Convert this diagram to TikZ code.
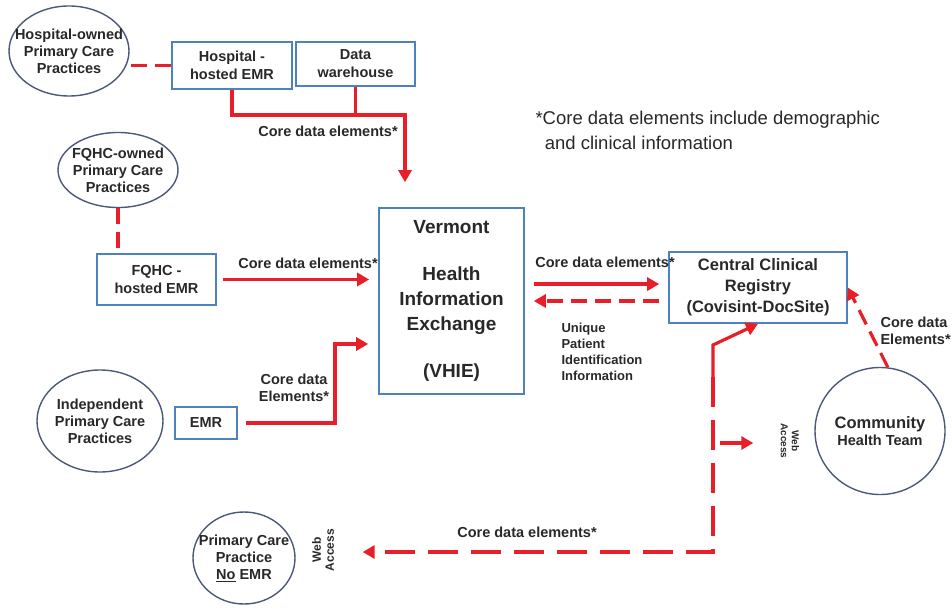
\documentclass[tikz,border=0pt]{standalone}
\usepackage{fontspec}
\setmainfont{Liberation Sans}
\usetikzlibrary{shapes.geometric,arrows.meta}
\definecolor{BoxBlue}{RGB}{79,129,189}
\definecolor{OvalGray}{RGB}{75,88,120}
\definecolor{LinkRed}{RGB}{232,30,40}
\definecolor{TextGray}{RGB}{40,40,40}
\newcommand{\fs}[2]{\fontsize{#1}{#2}\selectfont\bfseries}

\begin{document}
\begin{tikzpicture}[x=1pt,y=-1pt]
    \tikzset{BoxStyle/.style = {draw=BoxBlue, line width=1.6pt, align=center, text=TextGray, inner sep=0pt, font=\fs{14.5}{18}},
             OvalStyle/.style = {ellipse, draw=OvalGray, line width=1.4pt, align=center, text=TextGray, inner sep=-14pt, font=\fs{14.5}{17}},
             LabelStyle/.style = {align=center, text=TextGray, font=\fs{14.5}{17}},
             LinkStyle/.style = {draw=LinkRed, line width=3.2pt},
             ArrowStyle/.style = {LinkStyle, -{Triangle[length=12pt,width=13pt]}},
             LongDash/.style = {dash pattern=on 30pt off 13pt},
             ShortDash/.style = {dash pattern=on 16pt off 8pt}}
    \useasboundingbox (0,0) rectangle (952,612);

    \node[OvalStyle, minimum width=120pt, minimum height=90pt] (HOE) at (69,51) {Hospital-owned\\Primary Care\\Practices};
    \node[BoxStyle, minimum width=120pt, minimum height=47pt] (HEMR) at (232,65.5) {Hospital -\\hosted EMR};
    \node[BoxStyle, minimum width=119pt, minimum height=44pt] (DW) at (355.5,64) {Data\\warehouse};
    \node[OvalStyle, minimum width=120pt, minimum height=75pt] (FOE) at (118,170) {FQHC-owned\\Primary Care\\Practices};
    \node[BoxStyle, minimum width=119pt, minimum height=51pt] (FEMR) at (156.5,279.5) {FQHC -\\hosted EMR};
    \node[OvalStyle, minimum width=126pt, minimum height=102pt] (IPC) at (100,421) {Independent\\Primary Care\\Practices};
    \node[BoxStyle, minimum width=62pt, minimum height=32pt] (EMR) at (206,423) {EMR};
    \node[BoxStyle, minimum width=145pt, minimum height=186pt, font=\fs{19}{25}] (VHIE) at (451.5,301) {Vermont\\[22pt]Health\\Information\\Exchange\\[22pt](VHIE)};
    \node[BoxStyle, minimum width=178pt, minimum height=71pt, font=\fs{16.5}{21}] (CCR) at (758,287.5) {Central Clinical\\Registry\\(Covisint-DocSite)};
    \node[OvalStyle, minimum width=130pt, minimum height=127pt] (CHT) at (880,431) {{\fs{16.5}{19}Community}\\Health Team};
    \node[OvalStyle, minimum width=102pt, minimum height=92pt] (PCP) at (244,558) {Primary Care\\Practice\\\underline{No} EMR};

    \node[anchor=north west, align=left, text=TextGray, font=\fontsize{18.5}{25}\selectfont] (NOTE) at (532,108) {*Core data elements include demographic\\\hspace{0.5em}and clinical information};

    \node[LabelStyle] (L1) at (328,131) {Core data elements*};
    \node[LabelStyle] (L2) at (308,263) {Core data elements*};
    \node[LabelStyle] (L3) at (294,388) {Core data\\Elements*};
    \node[LabelStyle] (L4) at (605,262) {Core data elements*};
    \node[LabelStyle, anchor=north west, align=left, font=\fs{13}{16}] (L5) at (558,320) {Unique\\Patient\\Identification\\Information};
    \node[LabelStyle, anchor=west, align=left] (L6) at (877,331) {Core data\\Elements*};
    \node[LabelStyle] (L7) at (527,532) {Core data elements*};
    \node[LabelStyle, rotate=-90, font=\fs{10}{11}] (WA1) at (790,441) {Web\\Access};
    \node[LabelStyle, rotate=90, font=\fs{12}{13}] (WA2) at (323,550) {Web\\Access};

    \coordinate (J1) at (405,115);
    \coordinate (K1) at (335,344);
    \coordinate (C1) at (713,552);
    \coordinate (C2) at (713,377);
    \coordinate (C3) at (713,345);
    \coordinate (W1) at (720,443);

    \draw[LinkStyle, ShortDash] (HEMR.west) -- (HEMR.west -| HOE.east);
    \draw[ArrowStyle, shorten >=25pt] (HEMR.south) |- (J1) -- (J1 |- VHIE.north);
    \draw[LinkStyle] (DW.south) -- (DW.south |- J1);
    \draw[LinkStyle, ShortDash] (FOE.south) -- (FOE.south |- FEMR.north);
    \draw[ArrowStyle, shorten <=6pt, shorten >=9pt] (FEMR.east) -- (FEMR.east -| VHIE.west);
    \draw[ArrowStyle, shorten <=8pt, shorten >=10pt] (EMR.east) -| (K1) -- (K1 -| VHIE.west);
    \draw[ArrowStyle, shorten <=9pt, shorten >=9pt] (VHIE.13) -- (VHIE.13 -| CCR.west);
    \draw[ArrowStyle, ShortDash, shorten <=9pt, shorten >=9pt] (VHIE.east -| CCR.west) -- (VHIE.east);
    \draw[ArrowStyle, ShortDash] (CHT.83) -- (CCR.east);
    \draw[ArrowStyle, LongDash, shorten >=67pt] (C2) -- (C1) -- (C1 -| PCP.east);
    \draw[ArrowStyle] (C2) -- (C3) -- (CCR.south);
    \draw[ArrowStyle, shorten >=24pt] (W1) -- (W1 -| WA1.south);
\end{tikzpicture}
\end{document}
